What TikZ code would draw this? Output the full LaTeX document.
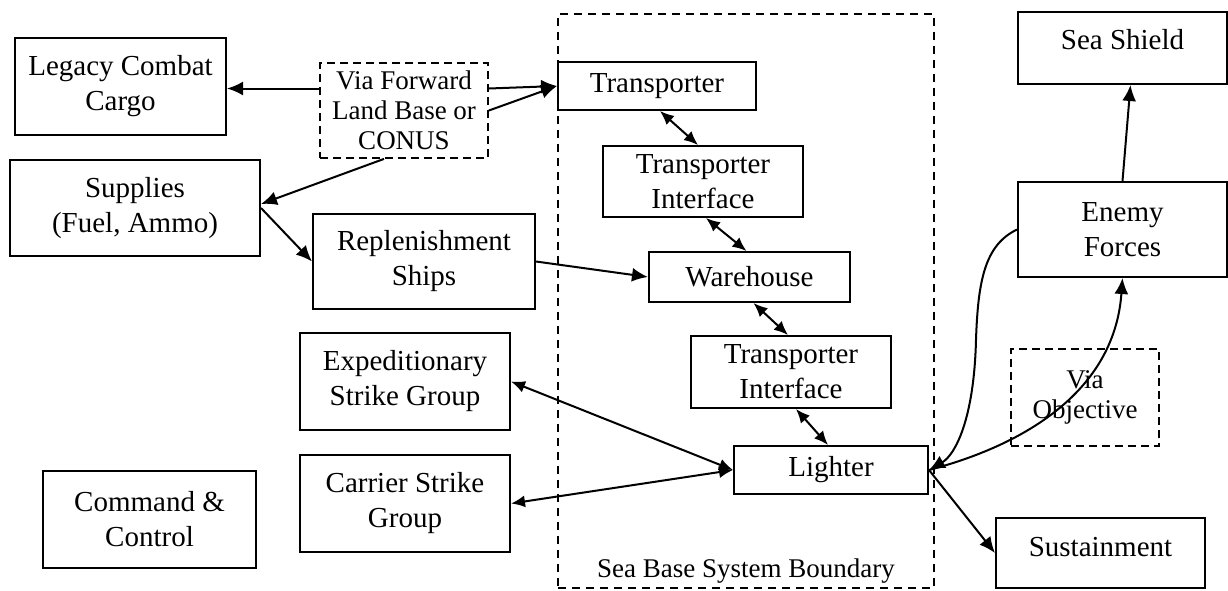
\documentclass[tikz,border=0pt]{standalone}
\usepackage{fontspec}
\setmainfont{Liberation Serif}
\usetikzlibrary{arrows.meta, calc, positioning}
\tikzstyle{block} = [rectangle, draw, line width=1pt, align=center, inner sep=1pt, font=\fontsize{14.5}{17.5}\selectfont]
\tikzstyle{via} = [block, line width=0.9pt, dash pattern=on 4pt off 2.5pt, font=\fontsize{13.5}{15}\selectfont]
\tikzstyle{boundary} = [rectangle, draw, line width=0.7pt, dash pattern=on 4pt off 3pt]
\tikzstyle{line} = [draw, line width=1pt, -{Latex[length=8pt, width=7pt]}]
\tikzstyle{both} = [draw, line width=1pt, {Latex[length=7pt, width=6pt]}-{Latex[length=7pt, width=6pt]}]

\begin{document}
\begin{tikzpicture}[x=0.5pt, y=-0.5pt]
        \useasboundingbox (0,0) rectangle (1228,590);

        \node[boundary, minimum width=188pt, minimum height=287pt] (seabase) at (746,301) {};
        \node[font=\fontsize{13.5}{15}\selectfont] (sblabel) at (746,571) {Sea Base System Boundary};

        \node[block, minimum width=105.5pt, minimum height=48.5pt] (legacy) at (120.5,86.5) {Legacy Combat\\Cargo};

        \node[via, minimum width=84pt, minimum height=47.5pt] (forward) at (404,110.5) {Via Forward\\Land Base or\\CONUS};

        \node[block, minimum width=99pt, minimum height=24pt] (trans) at (657,86) {Transporter};

        \node[block, minimum width=125pt, minimum height=48pt] (supplies) at (135,208) {Supplies\\(Fuel, Ammo)};

        \node[block, minimum width=111pt, minimum height=47.5pt] (replen) at (424,261.5) {Replenishment\\Ships};

        \node[block, minimum width=100pt, minimum height=35.5pt] (tiup) at (703,181.5) {Transporter\\Interface};

        \node[block, minimum width=100.5pt, minimum height=25pt] (ware) at (749.5,277) {Warehouse};

        \node[block, minimum width=100pt, minimum height=36pt] (tidown) at (791,372) {Transporter\\Interface};

        \node[block, minimum width=97pt, minimum height=24pt] (lighter) at (831,470) {Lighter};

        \node[block, minimum width=105pt, minimum height=48.5pt] (esg) at (405,381.5) {Expeditionary\\Strike Group};

        \node[block, minimum width=105pt, minimum height=48.5pt, below=11.5pt of esg] (csg) {Carrier Strike\\Group};

        \node[block, minimum width=106.5pt, minimum height=48.5pt] (cc) at (149.5,519.5) {Command \&\\Control};

        \node[block, minimum width=104.5pt, minimum height=47.5pt] (enemy) at (1122.5,229.5) {Enemy\\Forces};

        \node[block, minimum width=104.5pt, minimum height=36pt, above=48pt of enemy, text depth=9pt] (shield) {Sea Shield};

        \node[via, minimum width=74pt, minimum height=48.5pt] (objective) at (1085,397.5) {Via\\Objective};

        \node[block, minimum width=104.5pt, minimum height=35pt, text depth=6pt] (sustain) at (1100.5,553) {Sustainment};

        % outside the sea base
        \path[line] ([yshift=11pt]forward.west) -- ([yshift=11pt]forward.west -| legacy.east);
        \path[line] ([yshift=11pt]forward.east) -- (trans.west);
        \path[line] (forward.east) -- (trans.west);
        \path[line] ([xshift=-10pt]forward.south) -- ([yshift=2pt]supplies.east);
        \path[line] (supplies.east) -- (replen.west);
        \path[line] (replen.east) -- (ware.west);

        % inside the sea base
        \path[both] ([xshift=1.5pt]trans.south) -- ([xshift=-2.5pt]tiup.north);
        \path[both] ([xshift=1.5pt]tiup.south) -- ([xshift=-1.5pt]ware.north);
        \path[both] ([xshift=2pt]ware.south) -- ([xshift=-1.5pt]tidown.north);
        \path[both] ([xshift=2.5pt]tidown.south) -- ([xshift=-1.5pt]lighter.north);
        \path[both] (esg.east) -- (lighter.west);
        \path[both] (csg.east) -- (lighter.west);

        % to the objective
        \path[line] (lighter.east) -- (sustain.west);
        \path[line] (enemy.west) .. controls (985,245) and (978,280) .. (976,340) .. controls (974,420) and (955,455) .. (lighter.east);
        \path[line] (lighter.east) .. controls (1035,442) and (1115,385) .. (enemy.south);
        \path[line] (enemy.north) -- ([xshift=4pt]shield.south);
    \end{tikzpicture}
\end{document}
